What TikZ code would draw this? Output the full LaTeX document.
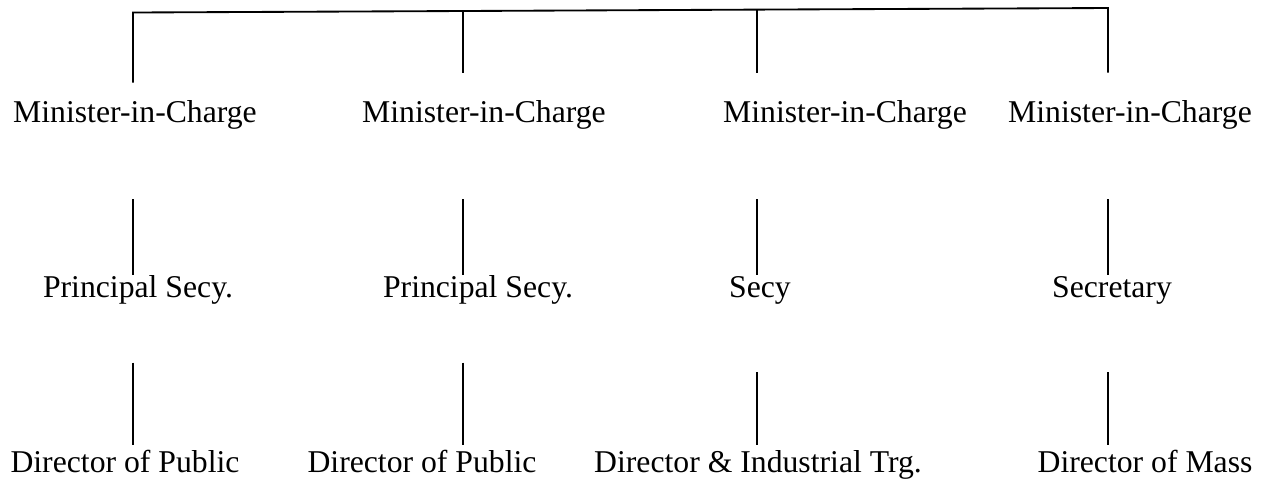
\documentclass[tikz,border=0pt]{standalone}
\usepackage{fontspec}
\setmainfont{Liberation Serif}
\usetikzlibrary{positioning, calc}

\tikzset{
  post/.style={font=\fontsize{12}{14}\selectfont, inner sep=0pt, anchor=base,
               text height=8.3pt, text depth=2.6pt},
  link/.style={black, line width=0.7pt},
}

\begin{document}
\begin{tikzpicture}[x=0.3785pt, y=-0.3785pt]
  \useasboundingbox (0,0) rectangle (1269,481);

  % Joints on the top bar
  \coordinate (j1) at (133,12.5);
  \coordinate (j2) at (463,11);
  \coordinate (j3) at (757,9.6);
  \coordinate (j4) at (1108,8);

  % Ministers
  \node[post] (m1) at (135,122) {Minister-in-Charge};
  \node[post] (m2) at (484,122) {Minister-in-Charge};
  \node[post] (m3) at (845,122) {Minister-in-Charge};
  \node[post] (m4) at (1130,122) {Minister-in-Charge};

  % Secretaries
  \node[post] (p1) at (138,297) {Principal Secy.};
  \node[post] (p2) at (478,297) {Principal Secy.};
  \node[post] (p3) at (760,297) {Secy};
  \node[post] (p4) at (1112,297) {Secretary};

  % Directors
  \node[post] (d1) at (125,472) {Director of Public};
  \node[post] (d2) at (422,472) {Director of Public};
  \node[post] (d3) at (758,472) {Director \& Industrial Trg.};
  \node[post] (d4) at (1145,472) {Director of Mass};

  % Top bar with the two outer drops
  \draw[link, shorten <=6.4pt, shorten >=10.2pt]
    (j1 |- m1.north) -- (j1) -- (j2) -- (j3) -- (j4) -- (j4 |- m4.north);
  \draw[link, shorten >=10.2pt] (j2) -- (j2 |- m2.north);
  \draw[link, shorten >=10.2pt] (j3) -- (j3 |- m3.north);

  % Minister to secretary
  \draw[link, shorten <=26.5pt] (m1.south -| j1) -- (p1.north -| j1);
  \draw[link, shorten <=26.5pt] (m2.south -| j2) -- (p2.north -| j2);
  \draw[link, shorten <=26.5pt] (m3.south -| j3) -- (p3.north -| j3);
  \draw[link, shorten <=26.5pt] (m4.south -| j4) -- (p4.north -| j4);

  % Secretary to director
  \draw[link, shorten <=22pt, shorten >=1.9pt] (p1.south -| j1) -- (d1.north -| j1);
  \draw[link, shorten <=22pt, shorten >=1.9pt] (p2.south -| j2) -- (d2.north -| j2);
  \draw[link, shorten <=25.7pt, shorten >=1.9pt] (p3.south -| j3) -- (d3.north -| j3);
  \draw[link, shorten <=25.7pt, shorten >=1.9pt] (p4.south -| j4) -- (d4.north -| j4);

\end{tikzpicture}
\end{document}
